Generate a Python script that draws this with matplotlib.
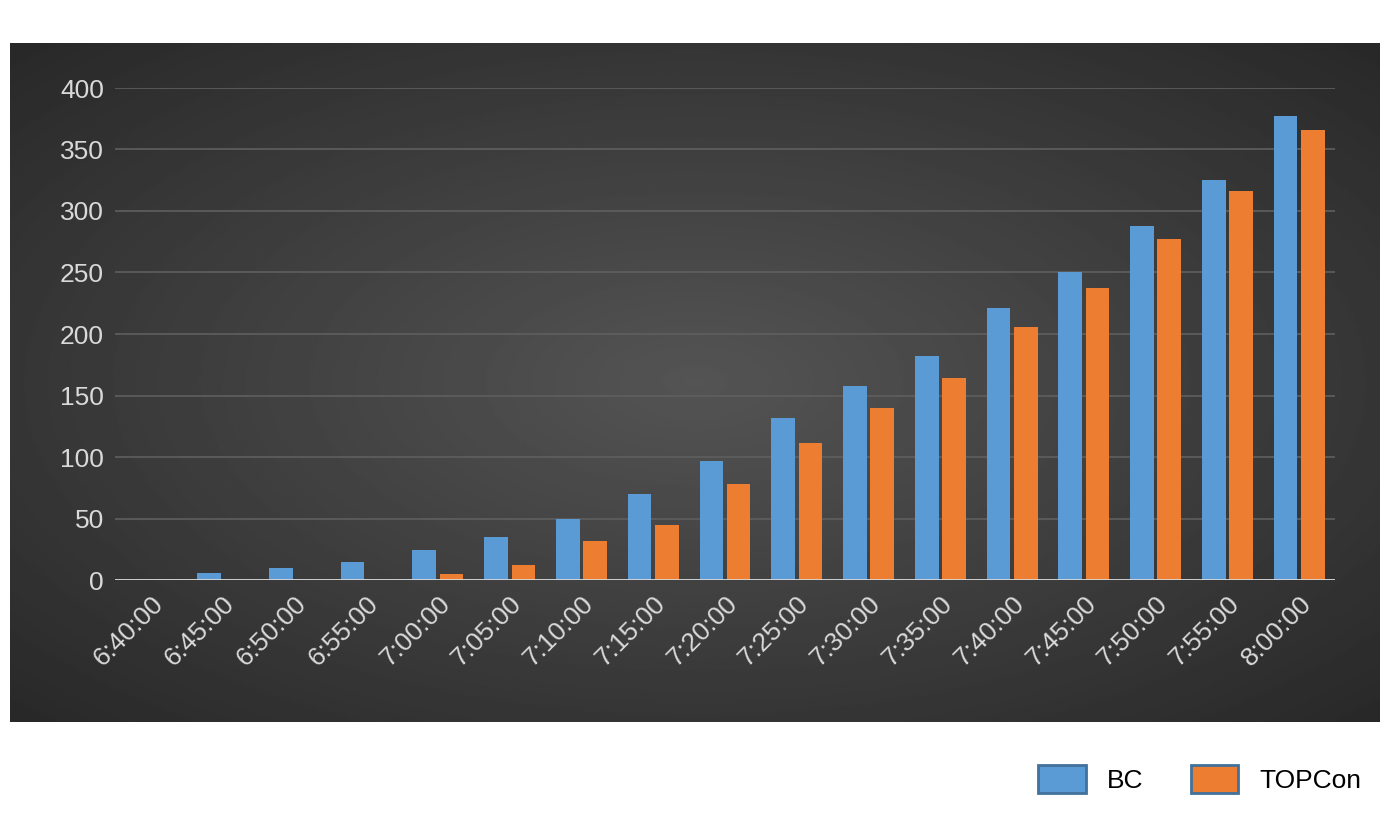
import numpy as np
import matplotlib.pyplot as plt
from matplotlib.patches import Patch

plt.rcParams['font.family'] = ['Liberation Sans', 'DejaVu Sans']

times = ["6:40:00", "6:45:00", "6:50:00", "6:55:00", "7:00:00", "7:05:00", "7:10:00",
         "7:15:00", "7:20:00", "7:25:00", "7:30:00", "7:35:00", "7:40:00", "7:45:00",
         "7:50:00", "7:55:00", "8:00:00"]
bc = [0, 6, 10, 15, 24, 35, 50, 70, 97, 132, 158, 182, 221, 250, 288, 325, 377]
topcon = [0, 0, 0, 0, 5, 12, 32, 45, 78, 111, 140, 164, 206, 237, 277, 316, 366]
yticks = [0, 50, 100, 150, 200, 250, 300, 350, 400]

W, H = 1395, 827
fig = plt.figure(figsize=(W / 100, H / 100), dpi=100)

# dark radial-gradient panel
bg = fig.add_axes([10 / W, 1 - 722 / H, 1370 / W, 679 / H])
yy, xx = np.mgrid[-1:1:300j, -1:1:600j]
r = np.sqrt(xx ** 2 + yy ** 2)
bg.imshow(0.33 - 0.17 * np.clip(r / 1.4, 0, 1), cmap="gray", vmin=0, vmax=1,
          aspect="auto", extent=[0, 1, 0, 1])
bg.axis("off")

ax = fig.add_axes([115 / W, 1 - 580 / H, 1220 / W, 492 / H])
ax.patch.set_alpha(0)
x = np.arange(len(times))
w = 0.33
ax.bar(x - 0.19, bc, w, color="#5B9BD5", zorder=3)
ax.bar(x + 0.19, topcon, w, color="#ED7D31", zorder=3)
ax.set_xlim(-0.5, len(times) - 0.5)
ax.set_ylim(0, 400)
ax.set_yticks(yticks)
ax.set_xticks(x)
ax.set_xticklabels(times, rotation=45, ha="right", rotation_mode="anchor")
ax.tick_params(colors="#d9d9d9", labelsize=19, length=0, pad=8)
ax.grid(axis="y", color="#5f5f5f", linewidth=1.2, zorder=0)
for s in ax.spines.values():
    s.set_visible(False)
ax.axhline(0, color="#d9d9d9", linewidth=2, zorder=4)

handles = [Patch(facecolor="#5B9BD5", edgecolor="#41719C", linewidth=2),
           Patch(facecolor="#ED7D31", edgecolor="#41719C", linewidth=2)]
fig.legend(handles, ["BC", "TOPCon"], loc="center right", bbox_to_anchor=(1385 / W, 1 - 779 / H),
           ncol=2, frameon=False, fontsize=19, handlelength=1.8, handleheight=1.3,
           columnspacing=1.8, handletextpad=0.8)

fig.savefig("out.png", dpi=100, facecolor="white")
